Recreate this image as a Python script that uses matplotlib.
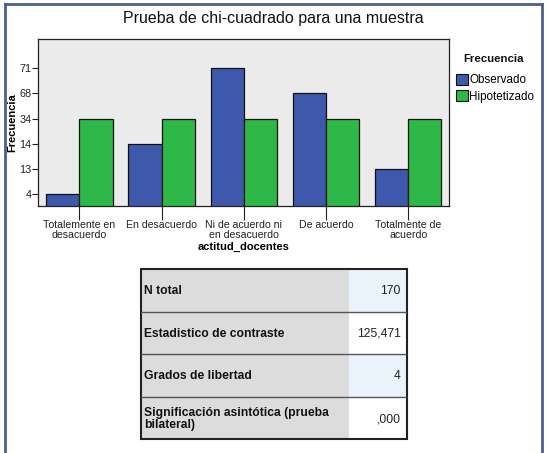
import matplotlib
matplotlib.use('Agg')
import matplotlib.pyplot as plt
from matplotlib.patches import Rectangle, Patch
from matplotlib.lines import Line2D
import numpy as np

plt.rcParams['font.family'] = ['Liberation Sans', 'DejaVu Sans']

# data
categories = ['Totalemente en\ndesacuerdo', 'En desacuerdo', 'Ni de acuerdo ni\nen desacuerdo',
              'De acuerdo', 'Totalmente de\nacuerdo']
observado = [4, 14, 71, 68, 13]
hipotetizado = [34, 34, 34, 34, 34]
series_names = ['Observado', 'Hipotetizado']
row_labels = ['N total', 'Estadistico de contraste', 'Grados de libertad',
              'Significación asintótica (prueba\nbilateral)']
row_values = ['170', '125,471', '4', ',000']

blue = '#3e58ac'
green = '#2eb848'

# SPSS puts the distinct values on an ordinal axis
levels = sorted(set(observado + hipotetizado))
pos_obs = [levels.index(v) + 1 for v in observado]
pos_hip = [levels.index(v) + 1 for v in hipotetizado]

W, H = 546, 453
fig = plt.figure(figsize=(W / 100, H / 100), dpi=100)

# outer frame
fig.add_artist(Line2D([5 / W, 5 / W], [0, 1 - 4 / H], color='#4b5e8e', lw=2))
fig.add_artist(Line2D([5 / W, 542 / W], [1 - 4 / H, 1 - 4 / H], color='#4b5e8e', lw=2))
fig.add_artist(Line2D([542 / W, 542 / W], [0, 1 - 4 / H], color='#4b5e8e', lw=2))

fig.text(273 / W, 1 - 19 / H, 'Prueba de chi-cuadrado para una muestra',
         ha='center', va='center', fontsize=11.5, color='#111111')

ax = fig.add_axes([38.3 / W, 1 - 205.5 / H, 411 / W, 166.2 / H])
ax.set_facecolor('#ebebeb')
x = np.arange(len(categories))
bw = 0.405
ax.bar(x - bw / 2, pos_obs, bw, color=blue, edgecolor='#111111', lw=0.9)
ax.bar(x + bw / 2, pos_hip, bw, color=green, edgecolor='#111111', lw=0.9)
ax.set_xlim(-0.5, len(categories) - 0.5)
ax.set_ylim(0.54, 7.155)
ax.set_yticks(range(1, len(levels) + 1))
ax.set_yticklabels([str(v) for v in levels])
ax.set_xticks(x)
ax.set_xticklabels(categories, linespacing=0.95)
ax.tick_params(axis='y', length=4, width=0.8, labelsize=7.8, pad=1, colors='#222222')
ax.tick_params(axis='x', length=10, width=0.8, labelsize=7.6, pad=0.5, colors='#222222')
for s in ax.spines.values():
    s.set_color('#222222')
    s.set_linewidth(0.9)
ax.set_ylabel('Frecuencia', fontsize=8, fontweight='bold', labelpad=1)
ax.set_xlabel('actitud_docentes', fontsize=8, fontweight='bold', labelpad=1.5)

handles = [Patch(facecolor=blue, edgecolor='#111111', lw=0.8),
           Patch(facecolor=green, edgecolor='#111111', lw=0.8)]
fig.text(494 / W, 1 - 59 / H, 'Frecuencia', ha='center', va='center',
         fontsize=8.2, fontweight='bold', color='#111111')
leg = fig.legend(handles, series_names, loc='upper left',
                 bbox_to_anchor=(456 / W, 1 - 74 / H), frameon=False, fontsize=8.4,
                 handlelength=1.05, handleheight=1.05, handletextpad=0.1,
                 labelspacing=0.35, borderpad=0.0, borderaxespad=0.0)

# statistics table
tx0, ty0, tw, th = 140.7, 269, 266, 170.3
tab = fig.add_axes([tx0 / W, 1 - (ty0 + th) / H, tw / W, th / H])
tab.set_xlim(0, tw)
tab.set_ylim(th, 0)
tab.axis('off')
split = 349 - tx0
rh = th / len(row_labels)
for i, (lab, val) in enumerate(zip(row_labels, row_values)):
    y0 = i * rh
    tab.add_patch(Rectangle((0, y0), split, rh, facecolor='#dcdcdc', edgecolor='none'))
    tab.add_patch(Rectangle((split, y0), tw - split, rh,
                            facecolor='#eaf2fc' if i % 2 == 0 else 'white', edgecolor='none'))
    if i > 0:
        tab.plot([0, tw], [y0, y0], color='#555555', lw=1)
    tab.text(3, y0 + rh / 2 + 1, lab, ha='left', va='center', fontsize=8.7,
             fontweight='bold', linespacing=0.9, color='#111111')
    tab.text(tw - 6, y0 + rh / 2 + 1, val, ha='right', va='center', fontsize=8.7,
             color='#222222')
tab.add_patch(Rectangle((0, 0), tw, th, facecolor='none', edgecolor='#222222', lw=1.5,
                        clip_on=False))

fig.savefig('out.png', dpi=100, facecolor='white')
